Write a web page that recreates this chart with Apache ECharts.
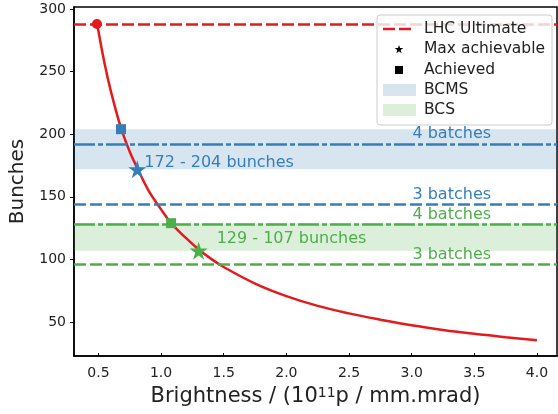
<!DOCTYPE html>
<html>
<head>
<meta charset="utf-8">
<script src="https://cdn.jsdelivr.net/npm/echarts@6/dist/echarts.min.js"></script>
<style>
  html, body { margin: 0; padding: 0; background: #fff; }
  #chart { width: 558px; height: 414px; }
</style>
</head>
<body>
<div id="chart"></div>
<script>
// data
const brightness = [0.49, 0.55, 0.6, 0.68, 0.75, 0.81, 0.9, 1.0, 1.08, 1.2, 1.3, 1.4, 1.5, 1.75, 2.0, 2.25, 2.5, 2.75, 3.0, 3.25, 3.5, 3.75, 4.0];
const bunches = [288, 256, 234, 205, 186, 173, 155, 140, 129, 117, 108, 100.5, 94, 80.8, 70.8, 63, 57, 52, 47.5, 43.8, 40.7, 38, 35.5];

const lhcUltimate = 288;
const ultimatePoint = [0.488, 288];

const bcmsBand = [172, 204];
const bcmsBatches = [['4 batches', 192], ['3 batches', 144]];
const bcmsAchieved = [0.68, 204];
const bcmsMax = [0.81, 172];

const bcsBand = [107, 129];
const bcsBatches = [['4 batches', 128], ['3 batches', 96]];
const bcsAchieved = [1.08, 129];
const bcsMax = [1.3, 107];

const xTicks = [0.5, 1.0, 1.5, 2.0, 2.5, 3.0, 3.5, 4.0];
const yTicks = [50, 100, 150, 200, 250, 300];

const legendItems = ['LHC Ultimate', 'Max achievable', 'Achieved', 'BCMS', 'BCS'];

const RED = '#e41a1c';
const BLUE = '#377eb8';
const GREEN = '#4daf4a';
const FONT = 'DejaVu Sans';
const STAR = 'path://M0,-1L0.2245,-0.309L0.951,-0.309L0.363,0.118L0.588,0.809L0,0.382L-0.588,0.809L-0.363,0.118L-0.951,-0.309L-0.2245,-0.309Z';
const BATCH_X = 3.32;  // where the "n batches" texts sit

const chart = echarts.init(document.getElementById('chart'));

// horizontal batch lines
const batchLines = (list, color) => list.map(([name, v]) => ({
  yAxis: v,
  lineStyle: {
    color: color,
    width: 2.5,
    type: name.startsWith('4') ? [21, 3, 5, 3] : [12, 4]
  }
}));

// text above each batch line
const batchTexts = (list, color) => list.map(([name, v]) => ({
  value: [BATCH_X, v],
  label: { formatter: name, color: color }
}));

// small star polygon for the legend
const starPoints = (cx, cy, r) => {
  const pts = [];
  for (let i = 0; i < 10; i++) {
    const a = -Math.PI / 2 + i * Math.PI / 5;
    const rr = i % 2 ? r * 0.4 : r;
    pts.push([cx + rr * Math.cos(a), cy + rr * Math.sin(a)]);
  }
  return pts;
};

// legend drawn by hand (matplotlib look)
const lx = 377, ly = 15;
const rowY = [14, 34, 55, 75, 95];
const legendGraphic = [
  {
    type: 'rect', z: 100,
    shape: { x: lx, y: ly, width: 175, height: 110, r: 3 },
    style: { fill: 'rgba(255,255,255,0.8)', stroke: '#cccccc', lineWidth: 1 }
  },
  {
    type: 'line', z: 101,
    shape: { x1: lx + 6, y1: ly + rowY[0], x2: lx + 36, y2: ly + rowY[0] },
    style: { stroke: RED, lineWidth: 2.5, lineDash: [12, 4] }
  },
  {
    type: 'polygon', z: 101,
    shape: { points: starPoints(lx + 22, ly + rowY[1] + 0.5, 4.5) },
    style: { fill: '#000' }
  },
  {
    type: 'rect', z: 101,
    shape: { x: lx + 18, y: ly + rowY[2] - 4, width: 8, height: 8 },
    style: { fill: '#000' }
  },
  {
    type: 'rect', z: 101,
    shape: { x: lx + 6, y: ly + rowY[3] - 6, width: 33, height: 12 },
    style: { fill: 'rgba(55,126,184,0.2)' }
  },
  {
    type: 'rect', z: 101,
    shape: { x: lx + 6, y: ly + rowY[4] - 6, width: 33, height: 12 },
    style: { fill: 'rgba(77,175,74,0.2)' }
  }
].concat(legendItems.map((t, i) => ({
  type: 'text', z: 102, x: lx + 47, y: ly + rowY[i],
  style: { text: t, fill: '#222', font: '15.5px "DejaVu Sans"', verticalAlign: 'middle' }
})));

const option = {
  animation: false,
  textStyle: { fontFamily: FONT },
  grid: {
    left: 72, right: 1, top: 7, bottom: 58,
    show: true, borderColor: '#000', borderWidth: 1.5, backgroundColor: 'transparent'
  },
  xAxis: {
    type: 'value',
    min: 0.305, max: 4.16,
    name: 'Brightness / (10{sup|11}p / mm.mrad)',
    nameLocation: 'middle',
    nameGap: 30,
    nameTextStyle: {
      fontSize: 21, color: '#222', fontFamily: FONT,
      rich: { sup: { fontSize: 14, verticalAlign: 'top', lineHeight: 13, color: '#222', fontFamily: FONT } }
    },
    axisLine: { show: true, lineStyle: { color: '#000', width: 1.5 } },
    axisTick: { show: true, inside: true, length: 3, customValues: xTicks, lineStyle: { color: '#000' } },
    axisLabel: { customValues: xTicks, fontSize: 14, color: '#222', margin: 10, formatter: v => v.toFixed(1) },
    splitLine: { show: false }
  },
  yAxis: {
    type: 'value',
    min: 23, max: 301.5,
    name: 'Bunches',
    nameLocation: 'middle',
    nameGap: 46,
    nameTextStyle: { fontSize: 20, color: '#222', fontFamily: FONT },
    axisLine: { show: true, lineStyle: { color: '#000', width: 1.5 } },
    axisTick: { show: true, length: 4, customValues: yTicks, lineStyle: { color: '#000' } },
    axisLabel: { customValues: yTicks, fontSize: 14, color: '#222', margin: 8 },
    splitLine: { show: false }
  },
  graphic: legendGraphic,
  series: [
    {
      // bands and horizontal reference lines
      type: 'line',
      data: [],
      z: 1,
      silent: true,
      markArea: {
        silent: true,
        data: [
          [{ yAxis: bcmsBand[0], itemStyle: { color: 'rgba(55,126,184,0.2)' } }, { yAxis: bcmsBand[1] }],
          [{ yAxis: bcsBand[0], itemStyle: { color: 'rgba(77,175,74,0.2)' } }, { yAxis: bcsBand[1] }]
        ]
      },
      markLine: {
        silent: true,
        symbol: 'none',
        label: { show: false },
        data: [{ yAxis: lhcUltimate, lineStyle: { color: RED, width: 2.5, type: [12, 4] } }]
          .concat(batchLines(bcmsBatches, BLUE))
          .concat(batchLines(bcsBatches, GREEN))
      }
    },
    {
      type: 'line',
      data: brightness.map((b, i) => [b, bunches[i]]),
      smooth: 0.4,
      showSymbol: false,
      z: 3,
      lineStyle: { color: RED, width: 2.5 }
    },
    {
      type: 'scatter',
      z: 4,
      symbol: 'circle',
      symbolSize: 10,
      itemStyle: { color: RED, opacity: 1 },
      data: [ultimatePoint]
    },
    {
      type: 'scatter',
      z: 4,
      symbol: 'rect',
      symbolSize: 10,
      data: [
        { value: bcmsAchieved, itemStyle: { color: BLUE, opacity: 1 } },
        { value: bcsAchieved, itemStyle: { color: GREEN, opacity: 1 } }
      ]
    },
    {
      type: 'scatter',
      z: 4,
      symbol: STAR,
      symbolSize: 18,
      label: { show: true, position: 'right', fontSize: 16, fontFamily: FONT },
      data: [
        { value: bcmsMax, itemStyle: { color: BLUE, opacity: 1 },
          label: { formatter: bcmsBand[0] + ' - ' + bcmsBand[1] + ' bunches', color: BLUE, distance: -2, offset: [0, -6] } },
        { value: bcsMax, itemStyle: { color: GREEN, opacity: 1 },
          label: { formatter: bcsBand[1] + ' - ' + bcsBand[0] + ' bunches', color: GREEN, distance: 9, offset: [0, -12] } }
      ]
    },
    {
      type: 'scatter',
      z: 2,
      symbolSize: 0,
      silent: true,
      itemStyle: { opacity: 1 },
      label: { show: true, position: 'top', distance: 2, fontSize: 16, fontFamily: FONT },
      data: batchTexts(bcmsBatches, BLUE).concat(batchTexts(bcsBatches, GREEN))
    }
  ]
};

chart.setOption(option);
</script>
</body>
</html>
